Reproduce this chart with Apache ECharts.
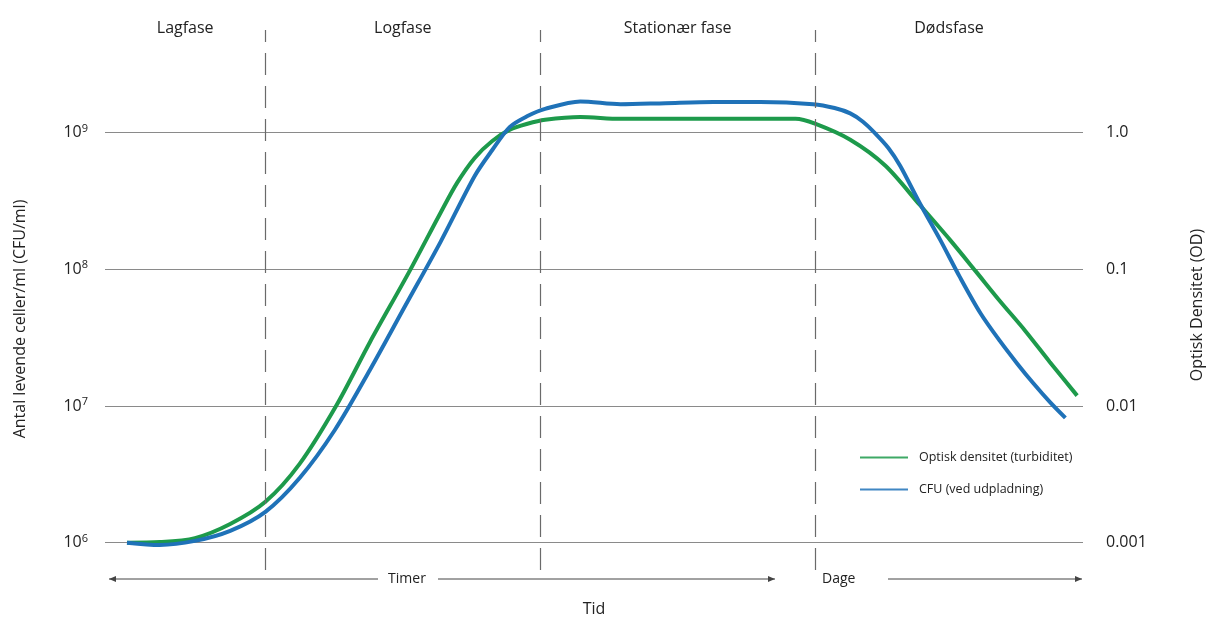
<!DOCTYPE html>
<html>
<head>
<meta charset="utf-8">
<script src="https://cdn.jsdelivr.net/npm/echarts@6/dist/echarts.min.js"></script>
<style>
  html, body { margin: 0; padding: 0; background: #fff; }
  #chart { width: 1208px; height: 626px; }
</style>
</head>
<body>
<div id="chart"></div>
<script>
// phases along the time axis (0..100 arbitrary units)
const phaseNames = ["Lagfase", "Logfase", "Stationær fase", "Dødsfase"];
const phaseBounds = [0, 16.4, 44.5, 72.6, 100];

// optical density curve, plotted against the CFU scale
const greenTime = [2.25, 5.6, 9.2, 12.8, 16.4, 19.9, 23.7, 27.1, 31.1, 34.3, 36.0, 37.8, 39.6, 41.4, 43.2, 45.0, 48.6, 52.7, 60.8, 70.6, 72.6, 76.2, 79.8, 83.3, 86.4, 89.0, 91.5, 94.1, 96.6, 99.4];
const greenCfu = [1.0e6, 1.01e6, 1.08e6, 1.37e6, 1.99e6, 3.77e6, 1.02e7, 2.94e7, 9.57e7, 2.58e8, 4.28e8, 6.52e8, 8.67e8, 1.05e9, 1.16e9, 1.24e9, 1.30e9, 1.26e9, 1.26e9, 1.26e9, 1.16e9, 8.85e8, 5.71e8, 2.96e8, 1.64e8, 9.73e7, 5.86e7, 3.54e7, 2.10e7, 1.19e7];

// plate counts
const blueTime = [2.25, 5.6, 9.2, 12.8, 16.4, 19.9, 23.5, 27.1, 30.7, 34.3, 37.8, 39.6, 41.4, 43.2, 45.0, 48.6, 52.7, 57.3, 62.2, 67.0, 72.4, 74.6, 76.2, 77.5, 78.7, 80.1, 81.3, 83.3, 85.4, 87.4, 89.5, 91.5, 93.3, 94.9, 96.6, 98.2];
const blueCfu = [1.0e6, 9.62e5, 1.03e6, 1.22e6, 1.68e6, 2.97e6, 6.67e6, 1.84e7, 5.40e7, 1.58e8, 4.81e8, 7.45e8, 1.10e9, 1.32e9, 1.49e9, 1.69e9, 1.61e9, 1.64e9, 1.67e9, 1.67e9, 1.61e9, 1.51e9, 1.38e9, 1.20e9, 9.95e8, 7.71e8, 5.71e8, 3.05e8, 1.64e8, 8.79e7, 4.79e7, 2.99e7, 2.03e7, 1.47e7, 1.07e7, 8.17e6];

// right axis tick labels, from 10^-3 to 10^0
const odLabels = ["0.001", "0.01", "0.1", "1.0"];

const GREEN = "#1d9a4b";
const BLUE = "#1f72b8";
const TEXT = "#222";
const FONT = "'Open Sans', 'Noto Sans', sans-serif";

const chart = echarts.init(document.getElementById("chart"), null, { renderer: "canvas" });

const arrowColor = "#444";
const arrowY = 579;
const arrowHead = (x, dir) => ({
  type: "polygon",
  shape: { points: [[x, arrowY], [x - dir * 7, arrowY - 3], [x - dir * 7, arrowY + 3]] },
  style: { fill: arrowColor },
});

chart.setOption({
  backgroundColor: "#fff",
  animation: false,
  textStyle: { fontFamily: FONT },
  grid: { top: 30, bottom: 56, left: 105, right: 125, outerBoundsMode: "none", containLabel: false },
  legend: {
    orient: "vertical",
    left: 860,
    top: 451,
    padding: 0,
    icon: "rect",
    itemWidth: 48,
    itemHeight: 2,
    itemGap: 19,
    itemStyle: { opacity: 0.85 },
    textStyle: { color: TEXT, fontSize: 12.5, fontFamily: FONT, padding: [0, 0, 0, 6] },
  },
  xAxis: {
    type: "value",
    min: 0,
    max: 100,
    name: "Tid",
    nameLocation: "middle",
    nameGap: 31,
    nameTextStyle: { color: TEXT, fontSize: 16, fontFamily: FONT },
    axisLine: { show: false },
    axisTick: { show: false },
    axisLabel: { show: false },
    splitLine: { show: false },
  },
  yAxis: [
    {
      type: "log",
      min: Math.pow(10, 5.8),
      max: Math.pow(10, 9.75),
      position: "left",
      name: "Antal levende celler/ml (CFU/ml)",
      nameLocation: "middle",
      nameRotate: 90,
      nameGap: 77,
      nameTextStyle: { color: TEXT, fontSize: 16, fontFamily: FONT, padding: [0, 38, 0, 0] },
      axisLine: { show: false },
      axisTick: { show: false },
      axisLabel: {
        margin: 17,
        showMinLabel: false,
        showMaxLabel: false,
        formatter: (v) => "{b|10}{s|" + Math.round(Math.log10(v)) + "}",
        rich: {
          b: { color: TEXT, fontSize: 16, fontFamily: FONT },
          s: { color: TEXT, fontSize: 11, fontFamily: FONT, padding: [0, 0, 8, 0] },
        },
      },
      splitLine: {
        show: true,
        showMinLine: false,
        showMaxLine: false,
        lineStyle: { color: "#8a8a8a", width: 1.2 },
      },
    },
    {
      type: "log",
      min: Math.pow(10, -3.2),
      max: Math.pow(10, 0.75),
      position: "right",
      name: "Optisk Densitet (OD)",
      nameLocation: "middle",
      nameRotate: 90,
      nameGap: 106,
      nameTextStyle: { color: TEXT, fontSize: 16, fontFamily: FONT, padding: [0, 10, 0, 0] },
      axisLine: { show: false },
      axisTick: { show: false },
      axisLabel: {
        margin: 23,
        color: TEXT,
        fontSize: 16,
        fontFamily: FONT,
        showMinLabel: false,
        showMaxLabel: false,
        formatter: (v) => odLabels[Math.round(Math.log10(v)) + 3] ?? "",
      },
      splitLine: { show: false },
    },
  ],
  series: [
    {
      name: "Optisk densitet (turbiditet)",
      type: "line",
      yAxisIndex: 0,
      data: greenTime.map((t, i) => [t, greenCfu[i]]),
      smooth: 0.3,
      symbol: "none",
      lineStyle: { color: GREEN, width: 4 },
      itemStyle: { color: GREEN },
      markLine: {
        silent: true,
        symbol: "none",
        label: { show: false },
        lineStyle: { color: "#6a6a6a", width: 1.2, type: [22, 11] },
        data: phaseBounds.slice(1, -1).map((x) => ({ xAxis: x })),
      },
      markArea: {
        silent: true,
        itemStyle: { color: "transparent" },
        label: {
          show: true,
          position: "top",
          distance: -6,
          color: TEXT,
          fontSize: 16,
          fontFamily: FONT,
        },
        data: phaseNames.map((name, i) => [
          { name, xAxis: phaseBounds[i] },
          { xAxis: phaseBounds[i + 1] },
        ]),
      },
    },
    {
      name: "CFU (ved udpladning)",
      type: "line",
      yAxisIndex: 0,
      data: blueTime.map((t, i) => [t, blueCfu[i]]),
      smooth: 0.3,
      symbol: "none",
      lineStyle: { color: BLUE, width: 4 },
      itemStyle: { color: BLUE },
    },
  ],
  graphic: [
    { type: "line", shape: { x1: 109, y1: arrowY, x2: 378, y2: arrowY }, style: { stroke: arrowColor, lineWidth: 1 } },
    arrowHead(109, -1),
    { type: "text", x: 407, y: arrowY, style: { text: "Timer", fill: TEXT, font: "14px " + FONT, align: "center", verticalAlign: "middle" } },
    { type: "line", shape: { x1: 438, y1: arrowY, x2: 775, y2: arrowY }, style: { stroke: arrowColor, lineWidth: 1 } },
    arrowHead(775, 1),
    { type: "text", x: 822, y: arrowY, style: { text: "Dage", fill: TEXT, font: "14px " + FONT, align: "left", verticalAlign: "middle" } },
    { type: "line", shape: { x1: 888, y1: arrowY, x2: 1082, y2: arrowY }, style: { stroke: arrowColor, lineWidth: 1 } },
    arrowHead(1082, 1),
  ],
});
</script>
</body>
</html>
